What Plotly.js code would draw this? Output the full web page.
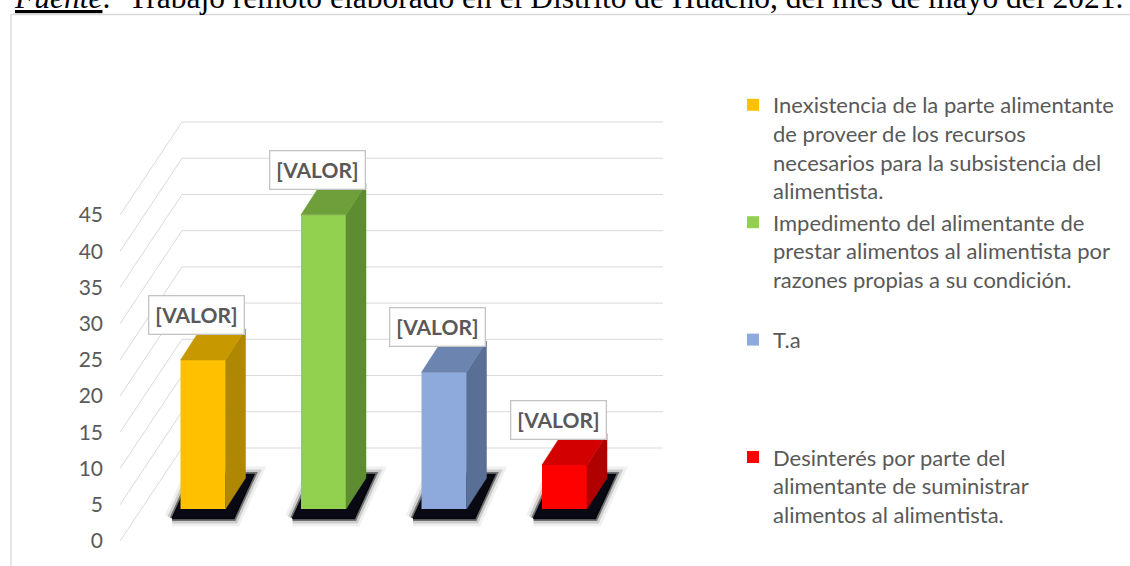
<!DOCTYPE html>
<html><head><meta charset="utf-8">
<script src="https://cdn.plot.ly/plotly-3.0.1.min.js"></script>
<style>html,body{margin:0;padding:0;background:#fff}#chart{width:1130px;height:566px}</style>
</head><body><div id="chart"></div>
<script>
// ---------- data ----------
const categories = [
  "Inexistencia de la parte alimentante<br>de proveer de los recursos<br>necesarios para la subsistencia del<br>alimentista.",
  "Impedimento del alimentante de<br>prestar alimentos al alimentista por<br>razones propias a su condición.<br>\u00a0",
  "T.a<br>\u00a0<br>\u00a0<br>\u00a0",
  "Desinterés por parte del<br>alimentante de suministrar<br>alimentos al alimentista."
];
const values = [20.6, 40.7, 18.9, 6.1];
const dataLabels = ["[VALOR]", "[VALOR]", "[VALOR]", "[VALOR]"];
const yTicks = [0, 5, 10, 15, 20, 25, 30, 35, 40, 45];
const caption = "<i><u>Fuente</u>:</i>  Trabajo remoto elaborado en el Distrito de Huacho, del mes de mayo del 2021.";

// ---------- styles ----------
const frontColors = ["#FFC000", "#92D050", "#8EA9DB", "#FF0000"];
const sideColors  = ["#B08700", "#5E8C30", "#5A6F95", "#B00000"];
const topColors   = ["#C79800", "#6E9F3B", "#6C84B0", "#D20000"];
const W = 1130, H = 566;
const FONT = "Lato, 'Open Sans', sans-serif";
const GREY = "#595959";

// geometry (pixels -> axis ranges)
const pxPerCat = 120.5, firstCenterPx = 203;
const xRange = [-firstCenterPx / pxPerCat, (W - firstCenterPx) / pxPerCat];
const labelZeroPx = 541, labelPxPerUnit = 7.244;          // front plane (tick labels)
const yLabRange = [(labelZeroPx - H) / labelPxPerUnit, labelZeroPx / labelPxPerUnit];
const barZeroPx = 509, barPxPerUnit = 7.23;               // bar plane
const yBarRange = [(barZeroPx - H) / barPxPerUnit, barZeroPx / barPxPerUnit];
const barW = 45 / pxPerCat;
const dX = 20 / pxPerCat, dYbar = 31 / barPxPerUnit;      // bar depth
const wallDepth = 93 / labelPxPerUnit;                    // back wall offset (label units)
const wallFrontX = (120 - firstCenterPx) / pxPerCat;
const wallBackX  = (182 - firstCenterPx) / pxPerCat;
const wallRightX = (663 - firstCenterPx) / pxPerCat;
const barPlaneOff = (labelZeroPx - barZeroPx) / labelPxPerUnit;
const barDepthLab = 31 / labelPxPerUnit;

const traces = [];

// wall grid (side wall diagonals + back wall lines)
const gx = [], gy = [];
yTicks.forEach(v => {
  gx.push(wallFrontX, wallBackX, wallRightX, null);
  gy.push(v, v + wallDepth, v + wallDepth, null);
});
traces.push({type: "scatter", mode: "lines", x: gx, y: gy, xaxis: "x", yaxis: "y",
  line: {color: "#d9d9d9", width: 1}, hoverinfo: "skip", showlegend: false});

// floor shadows (soft, dark)
values.forEach((v, i) => {
  const xl = i - barW / 2, xr = i + barW / 2, p = 0.07, q = 1.3;
  const y0 = barPlaneOff - q, y1 = barPlaneOff + barDepthLab + 0.5;
  [[16, "rgba(0,0,0,0.06)"], [10, "rgba(0,0,0,0.15)"], [5, "rgba(0,0,0,0.45)"], [1.5, "rgba(5,5,15,0.95)"]].forEach(([lw, c]) => {
    traces.push({type: "scatter", mode: "lines", xaxis: "x", yaxis: "y",
      x: [xl - p, xr + p, xr + dX + p, xl + dX - p, xl - p],
      y: [y0, y0, y1, y1, y0], fill: "toself", fillcolor: "rgba(10,10,20,0.95)",
      line: {color: c, width: lw}, hoverinfo: "skip", showlegend: false});
  });
});

// front faces (bars)
values.forEach((v, i) => {
  traces.push({type: "bar", x: [i], y: [v], width: [barW], xaxis: "x", yaxis: "y2",
    name: categories[i], marker: {color: frontColors[i], line: {width: 0}},
    hoverinfo: "y"});
});

// side and top faces
values.forEach((v, i) => {
  const xl = i - barW / 2, xr = i + barW / 2;
  traces.push({type: "scatter", mode: "lines", xaxis: "x", yaxis: "y2",
    x: [xr, xr + dX, xr + dX, xr, xr], y: [0, dYbar, v + dYbar, v, 0],
    fill: "toself", fillcolor: sideColors[i], line: {width: 0.5, color: sideColors[i]},
    hoverinfo: "skip", showlegend: false});
  traces.push({type: "scatter", mode: "lines", xaxis: "x", yaxis: "y2",
    x: [xl, xr, xr + dX, xl + dX, xl], y: [v, v, v + dYbar, v + dYbar, v],
    fill: "toself", fillcolor: topColors[i], line: {width: 0.5, color: topColors[i]},
    hoverinfo: "skip", showlegend: false});
});

const annotations = values.map((v, i) => ({
  x: i - 0.05, y: v, xref: "x", yref: "y2", yshift: 45, showarrow: false,
  text: "<b>" + dataLabels[i] + "</b>", font: {family: FONT, size: 21, color: GREY},
  bgcolor: "#ffffff", bordercolor: "#c4c4c4", borderwidth: 1.3, borderpad: 6,
  xanchor: "center", yanchor: "middle"
}));
annotations.push({
  x: 12 / W, y: 1 - 17 / H, xref: "paper", yref: "paper", xanchor: "left", yanchor: "bottom",
  showarrow: false, text: caption,
  font: {family: "'Liberation Serif', 'Times New Roman', serif", size: 31.5, color: "#000"}
});

const layout = {
  width: W, height: H, margin: {l: 0, r: 0, t: 0, b: 0},
  paper_bgcolor: "#ffffff", plot_bgcolor: "rgba(0,0,0,0)",
  barmode: "overlay", showlegend: true,
  xaxis: {range: xRange, visible: false, fixedrange: true},
  yaxis: {range: yLabRange, anchor: "free", position: 103 / W, side: "left",
    tickvals: yTicks, ticks: "", showgrid: false, zeroline: false, showline: false,
    tickfont: {family: FONT, size: 21, color: GREY}, fixedrange: true},
  yaxis2: {range: yBarRange, overlaying: "y", visible: false, fixedrange: true},
  legend: {x: 733 / W, xanchor: "left", y: 1 - 84 / H, yanchor: "top", valign: "top",
    font: {family: FONT, size: 22, color: GREY}, bgcolor: "rgba(0,0,0,0)",
    traceorder: "normal", itemclick: false, itemdoubleclick: false},
  shapes: [{type: "rect", xref: "paper", yref: "paper", x0: 11 / W, x1: 1.05, y0: -0.05, y1: 1 - 14.5 / H,
    line: {color: "#d9d9d9", width: 1.3}, fillcolor: "rgba(0,0,0,0)", layer: "below"}],
  annotations: annotations
};

Plotly.newPlot("chart", traces, layout, {displayModeBar: false, staticPlot: true});
</script>
</body></html>
